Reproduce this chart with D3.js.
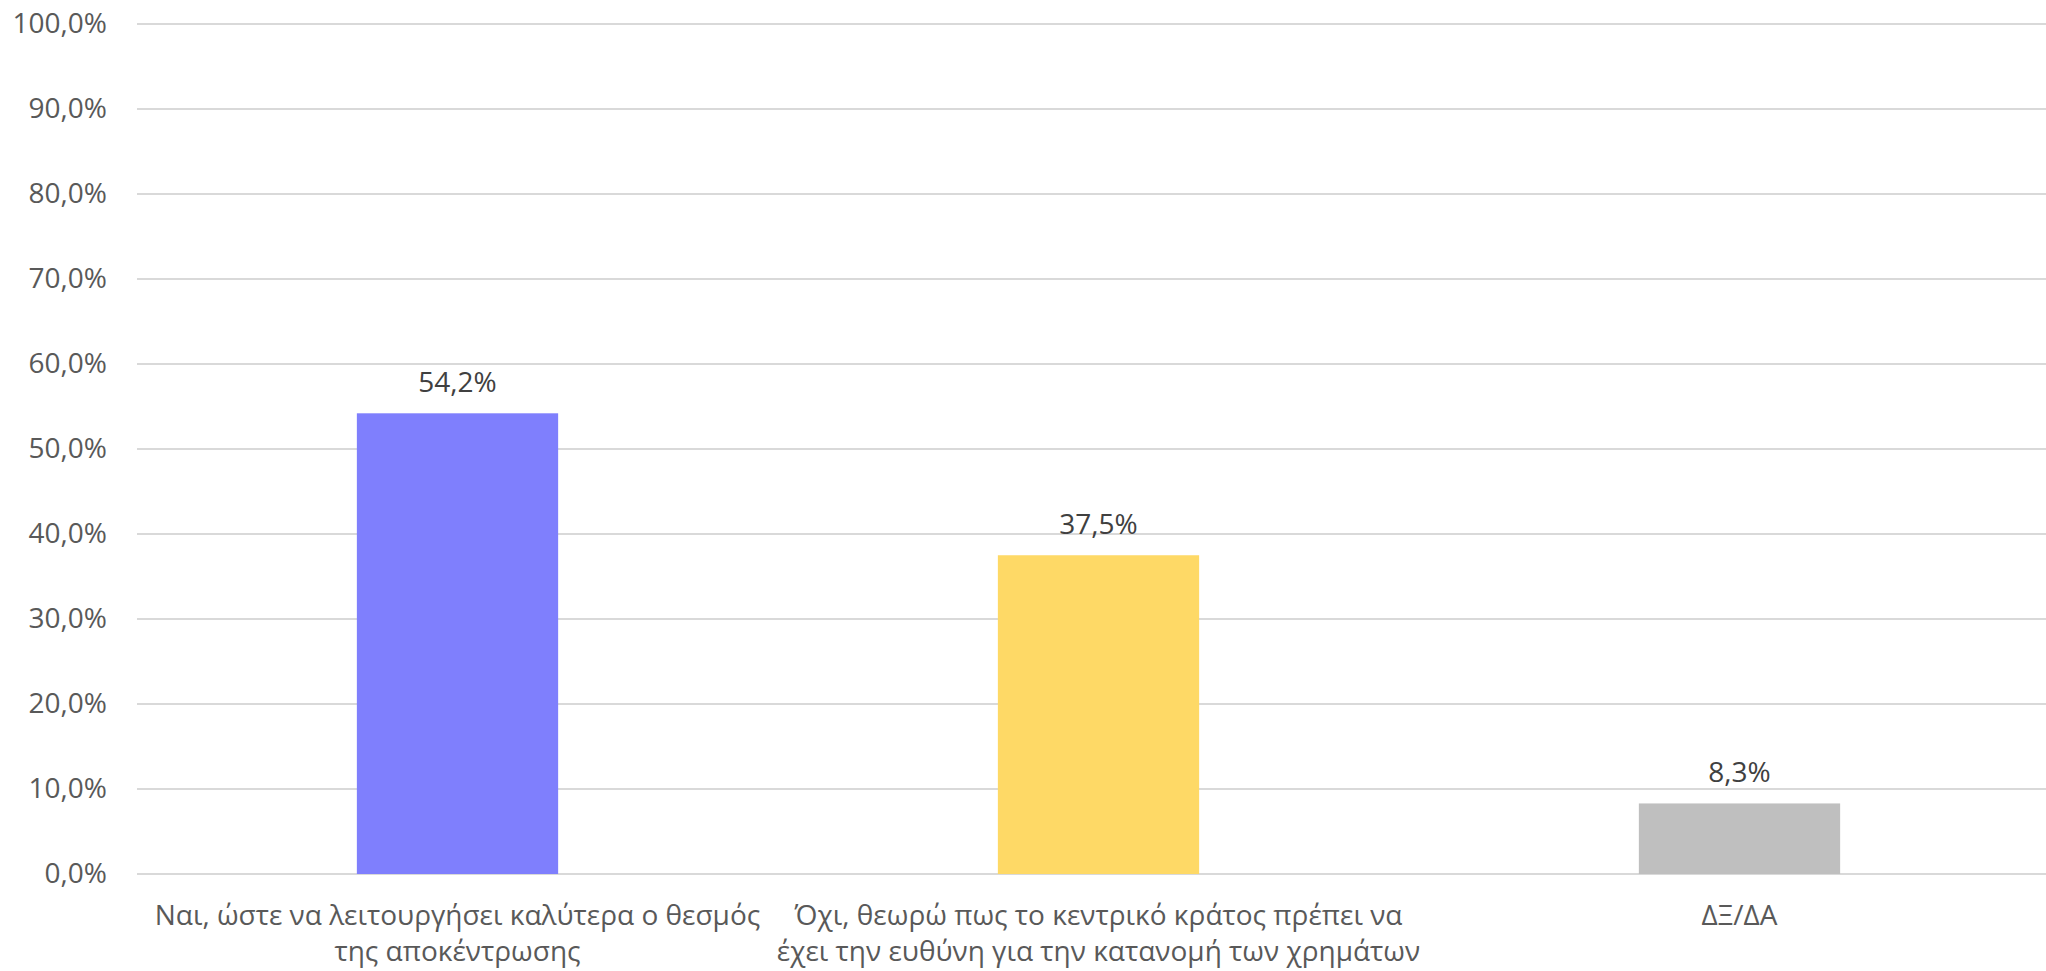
<!DOCTYPE html>
<html>
<head>
<meta charset="utf-8">
<script src="https://cdn.jsdelivr.net/npm/d3@7/dist/d3.min.js"></script>
<style>
  html, body { margin: 0; padding: 0; background: #ffffff; }
  svg { display: block; font-family: "Open Sans", "Noto Sans", sans-serif; }
</style>
</head>
<body>
<svg id="chart" width="2046" height="971"></svg>
<script>
const categories = [
  "Ναι, ώστε να λειτουργήσει καλύτερα ο θεσμός\nτης αποκέντρωσης",
  "Όχι, θεωρώ πως το κεντρικό κράτος πρέπει να\nέχει την ευθύνη για την κατανομή των χρημάτων",
  "ΔΞ/ΔΑ"
];
const values = [54.2, 37.5, 8.3];
const colors = ["#7F7FFD", "#FED966", "#BFBFBF"];
const yTicks = [0, 10, 20, 30, 40, 50, 60, 70, 80, 90, 100];

const svg = d3.select("#chart");
const plotLeft = 137, plotRight = 2060, plotTop = 24, plotBottom = 874;

const x = d3.scaleBand()
  .domain(categories)
  .range([plotLeft, plotRight])
  .paddingInner(0.686)
  .paddingOuter(0.343);

const y = d3.scaleLinear().domain([0, 100]).range([plotBottom, plotTop]);

const fmt = v => v.toFixed(1).replace(".", ",") + "%";

// gridlines
svg.append("g")
  .selectAll("line")
  .data(yTicks)
  .join("line")
  .attr("x1", plotLeft)
  .attr("x2", 2046)
  .attr("y1", d => y(d))
  .attr("y2", d => y(d))
  .attr("stroke", "#D9D9D9")
  .attr("stroke-width", 2);

// y axis labels
const yAxis = d3.axisLeft(y).tickValues(yTicks).tickFormat(fmt).tickSize(0).tickPadding(0);
const yg = svg.append("g").attr("transform", `translate(107,0)`).call(yAxis);
yg.select(".domain").remove();
yg.selectAll("text")
  .attr("fill", "#595959")
  .attr("font-size", 28)
  .attr("font-family", "'Open Sans', sans-serif");

// bars
svg.append("g")
  .selectAll("rect")
  .data(values)
  .join("rect")
  .attr("x", (d, i) => x(categories[i]))
  .attr("width", x.bandwidth())
  .attr("y", d => y(d))
  .attr("height", d => y(0) - y(d))
  .attr("fill", (d, i) => colors[i]);

// data labels
svg.append("g")
  .selectAll("text")
  .data(values)
  .join("text")
  .attr("x", (d, i) => x(categories[i]) + x.bandwidth() / 2)
  .attr("y", d => y(d) - 21)
  .attr("text-anchor", "middle")
  .attr("fill", "#404040")
  .attr("font-size", 28)
  .text(d => fmt(d));

// category labels
const xg = svg.append("g");
categories.forEach((c, i) => {
  const t = xg.append("text")
    .attr("x", x(c) + x.bandwidth() / 2)
    .attr("y", 925)
    .attr("text-anchor", "middle")
    .attr("fill", "#595959")
    .attr("font-size", 28);
  c.split("\n").forEach((line, j) => {
    t.append("tspan")
      .attr("x", x(c) + x.bandwidth() / 2)
      .attr("dy", j === 0 ? 0 : 36)
      .text(line);
  });
});
</script>
</body>
</html>
